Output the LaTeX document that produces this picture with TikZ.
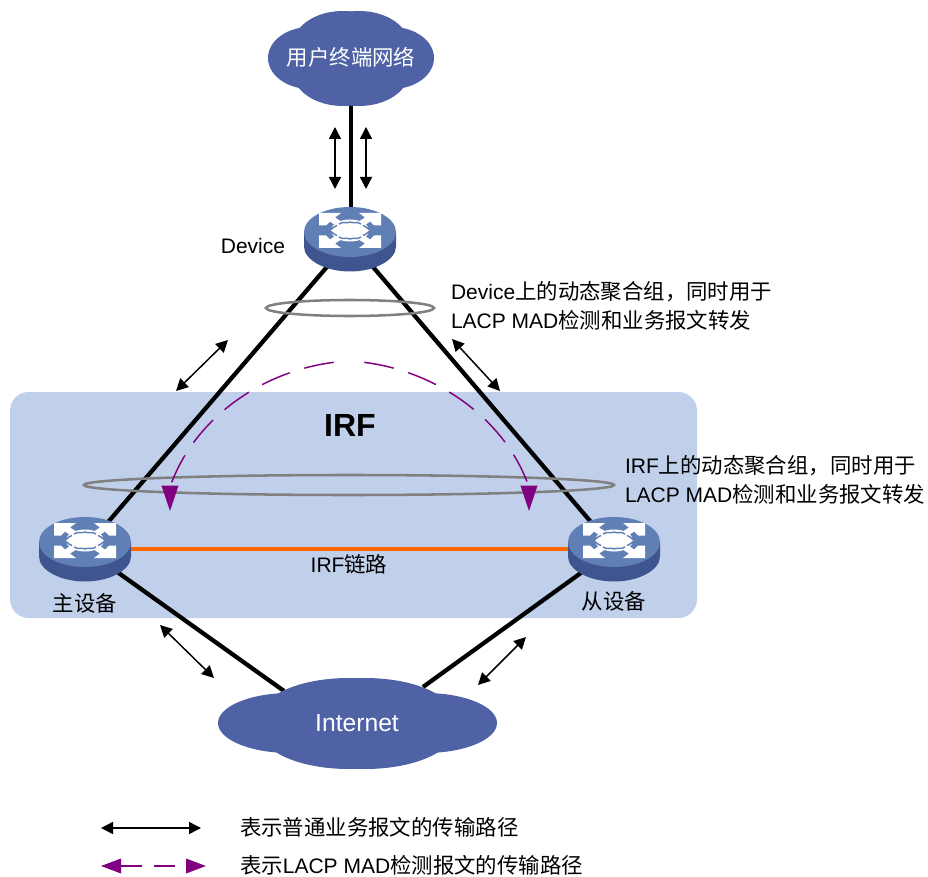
\documentclass[tikz,border=0pt]{standalone}
\usepackage{fontspec}
\setmainfont{Liberation Sans}
\newfontfamily\cjk[Scale=1.02]{Noto Sans CJK SC}
\usetikzlibrary{arrows.meta,shapes.geometric}
\pgfdeclarelayer{boxlayer}
\pgfdeclarelayer{linelayer}
\pgfsetlayers{boxlayer,linelayer,main}
\definecolor{cloudblue}{HTML}{4F62A5}
\definecolor{swtop}{HTML}{5F7FB5}
\definecolor{swside}{HTML}{3F558F}
\definecolor{irfbox}{HTML}{C1D0EA}
\definecolor{linkorange}{HTML}{FF6600}
\definecolor{madpurple}{HTML}{800080}
\definecolor{groupgray}{HTML}{808080}
\newcommand{\txt}{\fontsize{15.75}{21}\selectfont}
\newcommand{\cn}[1]{{\cjk #1}}
% switch icon: #1 is the centre of the top face
\newcommand{\swicon}[1]{%
\begin{scope}[shift={(#1)}]
 \fill[swside] (-46,0) -- (-46,14.5)
   .. controls (-46,28) and (-25,39.5) .. (0,39.5) .. controls (25,39.5) and (46,28) .. (46,14.5) -- (46,0) -- cycle;
 \fill[swtop] (0,0) ellipse[x radius=46,y radius=25];
 \begin{scope}[shift={(0,-1.5)}]
 \fill[white] (0,0) ellipse[x radius=19,y radius=11];
 \foreach \sx/\sy in {1/1,-1/1,1/-1,-1/-1}{
  \begin{scope}[xscale=\sx,yscale=\sy]
   \fill[white] (-31,-17.5) -- (-9,-17.5) -- (-15,-13) -- (-7,-8) -- (-13,-4) -- (-20,-9) -- (-24,-5) -- (-31,-5) -- cycle;
   \draw[swtop,line width=1.1pt] (-11,-6.5) .. controls (-7,-9.5) and (-3,-6.5) .. (0,-8.5);
   \draw[swtop,line width=1.1pt] (-19,-1) .. controls (-17,-4) and (-15,-3.5) .. (-13,-5);
  \end{scope}}
 \end{scope}
\end{scope}}
\newcommand{\blob}[3]{\fill[cloudblue] (#1) ellipse[x radius=#2,y radius=#3];}
\tikzset{
 x=0.75pt,y=-0.75pt,
 swnode/.style={ellipse,minimum width=60pt,minimum height=34pt,inner sep=0pt,outer sep=0pt},
 link/.style={line width=3.2pt,black},
 flowarrow/.style={line width=1.1pt,black,{Triangle[length=9pt,width=9pt]}-{Triangle[length=9pt,width=9pt]}},
 madarrow/.style={line width=1.1pt,madpurple,dash pattern=on 22.5pt off 11.5pt,dash phase=22.5pt},
 madhead/.style={line width=1.1pt,madpurple,-{Triangle[length=19pt,width=12.5pt]}},
 groupring/.style={line width=1.9pt,groupgray},
 label/.style={inner sep=0pt,outer sep=0pt,font=\txt},
 labelleft/.style={label,anchor=west},
}
\begin{document}
\begin{tikzpicture}
\useasboundingbox (0,0) rectangle (928,877);
\begin{pgfonlayer}{boxlayer}
 \fill[irfbox,rounded corners=14pt] (10,392) rectangle (697,618);
\end{pgfonlayer}
% clouds
\blob{310,58}{42}{31}\blob{392,58}{42}{31}
\blob{343,45}{50}{34}\blob{359,45}{50}{34}
\blob{343,72}{50}{34}\blob{359,72}{50}{34}
\blob{290,723}{72}{30}\blob{425,723}{72}{30}
\blob{349,716}{88}{38}\blob{365,716}{88}{38}
\blob{349,731}{88}{38}\blob{365,731}{88}{38}
% anchors and nodes
\node[label,text=white,minimum width=124.5pt,minimum height=72pt] (user) at (351,57) {\cn{用户终端网络}};
\node[label,text=white,font=\fontsize{18.5}{22}\selectfont,minimum width=209pt,minimum height=68pt] (inet) at (357,723) {Internet};
\node[swnode] (dev) at (350,240) {};
\node[swnode] (main) at (85,549) {};
\node[swnode] (sub) at (614,549) {};
\swicon{350,232}\swicon{85,542}\swicon{614,542}
\coordinate (inetL) at (284,691);
\coordinate (inetR) at (423,687);
\begin{pgfonlayer}{linelayer}
 \draw[link] (user.south) -- (user.south |- dev.north);
 \draw[link] (dev) -- (main);
 \draw[link] (dev) -- (sub);
 \draw[link] (main) -- (inetL);
 \draw[link] (sub) -- (inetR);
 \draw[line width=3pt,linkorange] (main) -- (sub);
\end{pgfonlayer}
% free ends of the small arrows
\coordinate (a1s) at (335,127); \coordinate (a1e) at (335,189);
\coordinate (a2s) at (366,127); \coordinate (a2e) at (366,189);
\coordinate (a3s) at (228,340); \coordinate (a3e) at (176,391);
\coordinate (a4s) at (452,339); \coordinate (a4e) at (500,391);
\coordinate (a5s) at (160,625); \coordinate (a5e) at (214,678);
\coordinate (a6s) at (526,637); \coordinate (a6e) at (478,685);
\foreach \n in {1,...,6}{\draw[flowarrow] (a\n s) -- (a\n e);}
% rings
\draw[groupring] (350,308) ellipse[x radius=84,y radius=8];
\draw[groupring] (349,485) ellipse[x radius=265,y radius=10];
% MAD paths
\coordinate (madL) at (170,511);
\coordinate (madR) at (529,511);
\coordinate (madLb) at (170,487);
\coordinate (madRb) at (529,487);
\draw[madarrow] (349,361) .. controls (270,365) and (195,415) .. (madLb);
\draw[madarrow] (349,361) .. controls (428,365) and (504,415) .. (madRb);
\draw[madhead] (madLb) -- (madL);
\draw[madhead] (madRb) -- (madR);
% labels
\node[label] (devlabel) at (253,246) {Device};
\node[label,font=\bfseries\fontsize{24}{28}\selectfont] (irf) at (350,425) {IRF};
\node[labelleft] (t1) at (451,292) {Device\cn{上的动态聚合组，同时用于}};
\node[labelleft] (t2) at (451,320) {LACP MAD\cn{检测和业务报文转发}};
\node[labelleft] (t3) at (625,466) {IRF\cn{上的动态聚合组，同时用于}};
\node[labelleft] (t4) at (625,494) {LACP MAD\cn{检测和业务报文转发}};
\node[label] (irflink) at (349,564) {IRF\cn{链路}};
\node[label] (mainl) at (85,603) {\cn{主设备}};
\node[label] (subl) at (614,601) {\cn{从设备}};
% legend
\node[labelleft] (leg1) at (240,827) {\cn{表示普通业务报文的传输路径}};
\node[labelleft] (leg2) at (240,865) {\cn{表示}LACP MAD\cn{检测报文的传输路径}};
\coordinate (l1s) at (101,828); \coordinate (l1e) at (201,828);
\coordinate (l2s) at (101,866); \coordinate (l2e) at (206,866);
\draw[flowarrow] (l1s) -- (l1e);
\draw[line width=0.9pt,madpurple,dash pattern=on 16pt off 9pt,{Triangle[length=15pt,width=11pt]}-{Triangle[length=15pt,width=11pt]}] (l2s) -- (l2e);
\end{tikzpicture}
\end{document}
